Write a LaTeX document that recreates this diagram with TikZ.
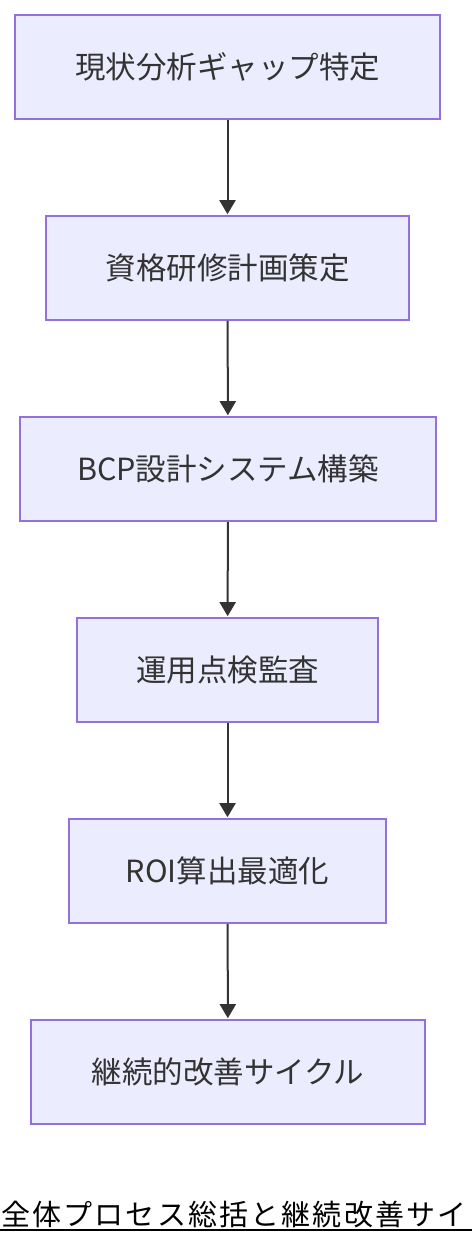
\documentclass[tikz,border=0pt]{standalone}
\usepackage{fontspec}
\setmainfont{Noto Sans CJK JP}
\usetikzlibrary{arrows.meta}
\definecolor{boxfill}{HTML}{ECECFF}
\definecolor{boxline}{HTML}{9370DB}
\definecolor{txt}{HTML}{333333}
\tikzset{
  stepbox/.style={draw=boxline, fill=boxfill, line width=1.8pt, minimum height=104pt, inner sep=0pt, text=txt, font=\fontsize{30.5}{36}\selectfont},
  arr/.style={draw=txt, line width=2pt, -{Triangle[length=14pt,width=16pt]}, shorten >=0.9pt},
}
\begin{document}
\begin{tikzpicture}[x=1pt,y=-1pt]
\useasboundingbox (0,0) rectangle (472,1244);
\fill[white] (0,0) rectangle (472,1244);
\node[stepbox, minimum width=425pt] (a) at (227.5,67) {現状分析ギャップ特定};
\node[stepbox, minimum width=363pt] (b) at (227.5,268) {資格研修計画策定};
\node[stepbox, minimum width=416pt] (c) at (228,469) {BCP設計システム構築};
\node[stepbox, minimum width=301pt] (d) at (227.5,670) {運用点検監査};
\node[stepbox, minimum width=317pt] (e) at (227.5,871) {ROI算出最適化};
\node[stepbox, minimum width=394pt] (f) at (228,1072) {継続的改善サイクル};
\draw[arr] (a) -- (b);
\draw[arr] (b) -- (c);
\draw[arr] (c) -- (d);
\draw[arr] (d) -- (e);
\draw[arr] (e) -- (f);
\node[anchor=base west, inner sep=0pt, text=black, font=\fontsize{29}{34}\selectfont\addfontfeature{LetterSpace=7.5}] (t) at (1,1225) {全体プロセス総括と継続改善サイ};
\coordinate (u1) at (0,1230);
\coordinate (u2) at (472,1230);
\draw[black, line width=2pt] (u1) -- (u2);
\end{tikzpicture}
\end{document}
